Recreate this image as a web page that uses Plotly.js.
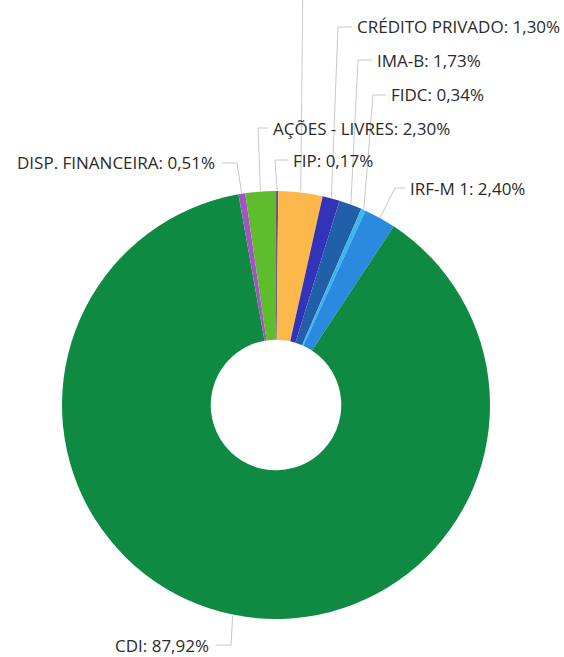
<!DOCTYPE html>
<html><head><meta charset="utf-8">
<script src="https://cdn.plot.ly/plotly-3.0.1.min.js"></script>
<style>html,body{margin:0;padding:0;background:#fff}#chart{width:564px;height:657px}</style>
</head><body><div id="chart"></div>
<script>
// ---- data ----
const labels = ["FIP", "OUTROS", "CRÉDITO PRIVADO", "IMA-B", "FIDC", "IRF-M 1", "CDI", "DISP. FINANCEIRA", "AÇÕES - LIVRES"];
const values = [0.17, 3.33, 1.30, 1.73, 0.34, 2.40, 87.92, 0.51, 2.30];
const colors = ["#6a5a86", "#fdb84b", "#3333b9", "#2160a9", "#3db6ef", "#2a8ae0", "#0f8a43", "#a552c6", "#5fbd2d"];
const shownLabel = [true, false, true, true, true, true, true, true, true];

// ---- layout of the outside labels (pixels): leader corner, text side ----
const W = 564, H = 657;
const labelPos = [
  {corner: [275, 160], hook: 288, side: "right"},   // FIP
  {corner: [303, -30], hook: 303, side: "right"},   // label outside picture
  {corner: [338, 27],  hook: 352, side: "right"},   // CRÉDITO PRIVADO
  {corner: [358, 60],  hook: 372, side: "right"},   // IMA-B
  {corner: [373, 95],  hook: 386, side: "right"},   // FIDC
  {corner: [395, 188], hook: 405, side: "right"},   // IRF-M 1
  {corner: [231, 645], hook: 216, side: "left"},    // CDI
  {corner: [237, 163], hook: 222, side: "left"},    // DISP. FINANCEIRA
  {corner: [258, 128], hook: 268, side: "right"}    // AÇÕES - LIVRES
];

const domain = {x: [62 / W, 490 / W], y: [1 - 619 / H, 1 - 191 / H]};
const cx = (domain.x[0] + domain.x[1]) / 2 * W;
const cy = (1 - (domain.y[0] + domain.y[1]) / 2) * H;
const R = Math.min((domain.x[1] - domain.x[0]) * W, (domain.y[1] - domain.y[0]) * H) / 2;

const fmt = v => v.toFixed(2).replace(".", ",") + "%";
const px = x => x / W, py = y => 1 - y / H;

const total = values.reduce((a, b) => a + b, 0);
let cum = 0;
const shapes = [], annotations = [];
values.forEach((v, i) => {
  const mid = (cum + v / 2) / total * 2 * Math.PI;
  cum += v;
  const sx = cx + (R + 1) * Math.sin(mid), sy = cy - (R + 1) * Math.cos(mid);
  const p = labelPos[i];
  shapes.push({
    type: "path", xref: "paper", yref: "paper",
    path: `M${px(sx)},${py(sy)} L${px(p.corner[0])},${py(p.corner[1])} L${px(p.hook)},${py(p.corner[1])}`,
    line: {color: "#c8c8c8", width: 1}
  });
  if (shownLabel[i]) {
    annotations.push({
      xref: "paper", yref: "paper",
      x: px(p.side === "right" ? p.hook + 3 : p.hook - 5), y: py(p.corner[1]),
      xanchor: p.side === "right" ? "left" : "right", yanchor: "middle",
      text: labels[i] + ": " + fmt(v), showarrow: false,
      font: {family: "Open Sans, sans-serif", size: 17, color: "#2a2a2a"}
    });
  }
});

const trace = {
  type: "pie", labels: labels, values: values, sort: false,
  direction: "clockwise", rotation: 0, hole: 0.305,
  marker: {colors: colors, line: {width: 0}},
  textinfo: "none", hoverinfo: "label+value",
  domain: domain
};

Plotly.newPlot("chart", [trace], {
  width: W, height: H, margin: {l: 0, r: 0, t: 0, b: 0},
  paper_bgcolor: "#ffffff", showlegend: false,
  shapes: shapes, annotations: annotations
}, {displayModeBar: false, staticPlot: true});
</script></body></html>
